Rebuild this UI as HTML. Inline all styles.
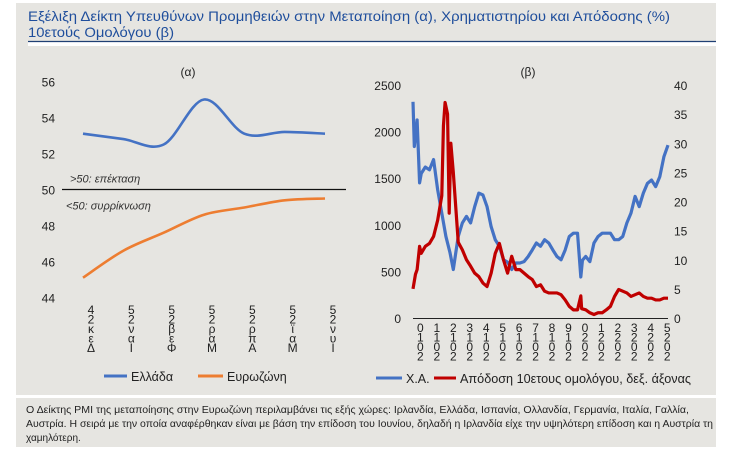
<!DOCTYPE html>
<html><head><meta charset="utf-8">
<style>
body{margin:0;background:#fff;width:731px;height:450px;overflow:hidden;font-family:"Liberation Sans",sans-serif;}
svg{display:block}
</style></head>
<body>
<svg id="c" width="731" height="450" xmlns="http://www.w3.org/2000/svg" font-family="Liberation Sans, sans-serif">
<rect x="16" y="3" width="700" height="392" fill="#e6e5e1"/>
<rect x="16" y="398" width="700" height="49" fill="#e6e5e1"/>
<text x="28" y="21" font-size="14" fill="#1f4e9c" textLength="642" lengthAdjust="spacingAndGlyphs">Εξέλιξη Δείκτη Υπευθύνων Προμηθειών στην Μεταποίηση (α), Χρηματιστηρίου και Απόδοσης (%)</text>
<text x="28" y="37" font-size="14" fill="#1f4e9c" textLength="146" lengthAdjust="spacingAndGlyphs">10ετούς Ομολόγου (β)</text>
<rect x="28" y="42" width="688" height="4" fill="#ffffff"/>
<line x1="28" y1="41.5" x2="716" y2="41.5" stroke="#1f3f73" stroke-width="1.3"/>
<text x="188" y="76" font-size="12" text-anchor="middle" fill="#222">(α)</text>
<text x="528" y="76" font-size="12" text-anchor="middle" fill="#222">(β)</text>
<g id="left"></g>
<g id="right"></g>
<g>
<line x1="104" y1="376" x2="127" y2="376" stroke="#4472c4" stroke-width="3"/>
<text x="131" y="381" font-size="12.5" fill="#222">Ελλάδα</text>
<line x1="198" y1="376" x2="223" y2="376" stroke="#ed7d31" stroke-width="3"/>
<text x="227" y="381" font-size="12.5" fill="#222">Ευρωζώνη</text>
</g>
<g>
<line x1="376" y1="378" x2="402" y2="378" stroke="#4472c4" stroke-width="3"/>
<text x="406" y="383" font-size="12.5" fill="#222">Χ.Α.</text>
<line x1="434" y1="378" x2="456" y2="378" stroke="#c00000" stroke-width="3"/>
<text x="460" y="383" font-size="12.5" fill="#222" textLength="231" lengthAdjust="spacingAndGlyphs">Απόδοση 10ετους ομολόγου, δεξ. άξονας</text>
</g>
<g font-size="10" fill="#222">
<text x="26" y="413" textLength="663" lengthAdjust="spacingAndGlyphs">Ο Δείκτης PMI της μεταποίησης στην Ευρωζώνη περιλαμβάνει τις εξής χώρες: Ιρλανδία, Ελλάδα, Ισπανία, Ολλανδία, Γερμανία, Ιταλία, Γαλλία,</text>
<text x="26" y="427" textLength="687" lengthAdjust="spacingAndGlyphs">Αυστρία. Η σειρά με την οποία αναφέρθηκαν είναι με βάση την επίδοση του Ιουνίου, δηλαδή η Ιρλανδία είχε την υψηλότερη επίδοση και η Αυστρία τη</text>
<text x="26" y="441">χαμηλότερη.</text>
</g>
</svg>
<script>
// Left chart data
const pmiMonths = ["Δεκ-24","Ιαν-25","Φεβ-25","Μαρ-25","Απρ-25","Μαϊ-25","Ιουν-25"];
const pmiLabels = [["4","2","κ","ε","Δ"],["5","2","ν","α","Ι"],["5","2","β","ε","Φ"],["5","2","ρ","α","Μ"],["5","2","ρ","π","Α"],["5","2","ϊ","α","Μ"],["5","2","ν","υ","Ι"]];
const pmiGreece = [53.1,52.8,52.5,55.0,53.1,53.2,53.1];
const pmiEurozone = [45.1,46.6,47.6,48.6,49.0,49.4,49.5];
const pmiTicks = [44,46,48,50,52,54,56];

// Right chart data
const aseDates = [2010.0,2010.08,2010.25,2010.4,2010.5,2010.75,2011.0,2011.25,2011.5,2011.75,2012.0,2012.25,2012.45,2012.6,2012.75,2013.0,2013.25,2013.5,2013.75,2014.0,2014.25,2014.5,2014.75,2015.0,2015.25,2015.5,2015.75,2016.0,2016.25,2016.5,2016.75,2017.0,2017.25,2017.5,2017.75,2018.0,2018.25,2018.5,2018.75,2019.0,2019.25,2019.5,2019.75,2020.0,2020.2,2020.3,2020.5,2020.75,2021.0,2021.25,2021.5,2021.75,2022.0,2022.25,2022.5,2022.75,2023.0,2023.25,2023.5,2023.75,2024.0,2024.25,2024.5,2024.75,2025.0,2025.25,2025.5];
const aseValues = [2320,1840,2125,1450,1550,1620,1590,1700,1375,1125,875,700,520,700,875,1020,1090,1020,1195,1340,1320,1195,980,840,770,625,600,520,590,590,605,660,730,805,770,840,805,730,660,625,730,875,910,910,440,620,660,605,805,875,910,910,910,840,840,875,1020,1125,1305,1195,1340,1445,1480,1410,1515,1730,1855];
const yieldDates = [2010.0,2010.15,2010.25,2010.4,2010.5,2010.75,2011.0,2011.25,2011.5,2011.75,2011.85,2011.95,2012.1,2012.2,2012.3,2012.45,2012.6,2012.75,2013.0,2013.25,2013.5,2013.75,2014.0,2014.25,2014.5,2014.75,2015.0,2015.25,2015.5,2015.75,2016.0,2016.25,2016.5,2016.75,2017.0,2017.25,2017.5,2017.75,2018.0,2018.25,2018.5,2018.75,2019.0,2019.25,2019.5,2019.75,2020.0,2020.2,2020.25,2020.5,2020.75,2021.0,2021.25,2021.5,2021.75,2022.0,2022.25,2022.5,2022.75,2023.0,2023.25,2023.5,2023.75,2024.0,2024.25,2024.5,2024.75,2025.0,2025.25,2025.5];
const yieldValues = [5.0,7.5,8.3,12.3,11.1,12.3,12.8,14.0,16.8,21.0,33.0,37.0,35.0,18.0,30.0,25.0,19.0,13.0,11.7,10.0,8.9,7.7,7.1,6.0,5.4,7.7,11.1,12.8,10.0,7.7,10.6,8.3,8.3,7.7,7.1,6.6,5.4,5.7,4.6,4.3,4.3,4.3,4.0,3.1,2.0,1.4,1.4,3.8,1.6,1.4,0.9,0.6,0.9,0.9,1.4,2.0,3.7,4.9,4.6,4.3,3.7,4.0,4.3,3.7,3.4,3.4,3.1,3.1,3.4,3.4];
const yearLabels = ["2010","2011","2012","2013","2014","2015","2016","2017","2018","2019","2020","2021","2022","2023","2024","2025"];
const leftTicks = [0,500,1000,1500,2000,2500];
const rightTicks = [0,5,10,15,20,25,30,35,40];

const NS="http://www.w3.org/2000/svg";
function mk(tag,attrs,parent,text){const e=document.createElementNS(NS,tag);for(const k in attrs)e.setAttribute(k,attrs[k]);if(text!==undefined)e.textContent=text;parent.appendChild(e);return e;}

// Left chart
const L=document.getElementById('left');
const lx=i=>83+i*(325-83)/(pmiMonths.length-1);
const ly=v=>189.5-(v-50)*18;
pmiTicks.forEach(t=>{
  const e=mk('text',{x:55,y:ly(t)+5,'font-size':12,'text-anchor':'end',fill:'#222'},L,String(t));
  
  
});
const th=mk('line',{x1:62,y1:ly(50),x2:346,y2:ly(50),stroke:'#111','stroke-width':1.3},L);


const a1=mk('text',{x:70,y:ly(50)-7,'font-size':11,'font-style':'italic',fill:'#333'},L,'>50: επέκταση');


const a2=mk('text',{x:66,y:ly(50)+20,'font-size':11,'font-style':'italic',fill:'#333'},L,'<50: συρρίκνωση');


function smooth(pts){
  let d=`M${pts[0][0]},${pts[0][1]}`;
  for(let i=0;i<pts.length-1;i++){
    const p0=pts[Math.max(0,i-1)],p1=pts[i],p2=pts[i+1],p3=pts[Math.min(pts.length-1,i+2)];
    const c1=[p1[0]+(p2[0]-p0[0])/6,p1[1]+(p2[1]-p0[1])/6];
    const c2=[p2[0]-(p3[0]-p1[0])/6,p2[1]-(p3[1]-p1[1])/6];
    d+=` C${c1[0]},${c1[1]} ${c2[0]},${c2[1]} ${p2[0]},${p2[1]}`;
  }
  return d;
}
const gl=mk('path',{d:smooth(pmiGreece.map((v,i)=>[lx(i),ly(v)])),fill:'none',stroke:'#4472c4','stroke-width':2.6},L);


const el=mk('path',{d:smooth(pmiEurozone.map((v,i)=>[lx(i),ly(v)])),fill:'none',stroke:'#ed7d31','stroke-width':2.6},L);


pmiLabels.forEach((chars,i)=>{
  const g=mk('g',{},L);
  
  
  chars.forEach((c,j)=>mk('text',{x:lx(i)+8,y:314+j*9.5,'font-size':12,'text-anchor':'middle',fill:'#222'},g,c));
});

// Right chart
const R=document.getElementById('right');
const x0=413,x1=668,yr0=2010,yr1=2025.5;
const rx=t=>x0+(t-yr0)/(yr1-yr0)*(x1-x0);
const ryL=v=>318-v/2500*233;
const ryR=v=>318-v/40*233;
leftTicks.forEach(t=>{
  const e=mk('text',{x:401,y:ryL(t)+5,'font-size':12,'text-anchor':'end',fill:'#222'},R,String(t));
  
  
});
rightTicks.forEach(t=>{
  const e=mk('text',{x:674,y:ryR(t)+5,'font-size':12,fill:'#222'},R,String(t));
  
  
});
const ase=mk('polyline',{points:aseValues.map((v,i)=>rx(aseDates[i])+','+ryL(v)).join(' '),fill:'none',stroke:'#4472c4','stroke-width':3.2,'stroke-linejoin':'round'},R);


const yl=mk('polyline',{points:yieldValues.map((v,i)=>rx(yieldDates[i])+','+ryR(v)).join(' '),fill:'none',stroke:'#c00000','stroke-width':3.2,'stroke-linejoin':'round'},R);


const ax=mk('line',{x1:x0,y1:318.5,x2:x1,y2:318.5,stroke:'#222','stroke-width':1},R);


yearLabels.forEach((y,i)=>{
  const g=mk('g',{},R);
  
  
  const chars=y.split('').reverse();
  chars.forEach((c,j)=>mk('text',{x:rx(+y+0.45),y:332+j*9.5,'font-size':12,'text-anchor':'middle',fill:'#222'},g,c));
});
</script>
</body></html>
